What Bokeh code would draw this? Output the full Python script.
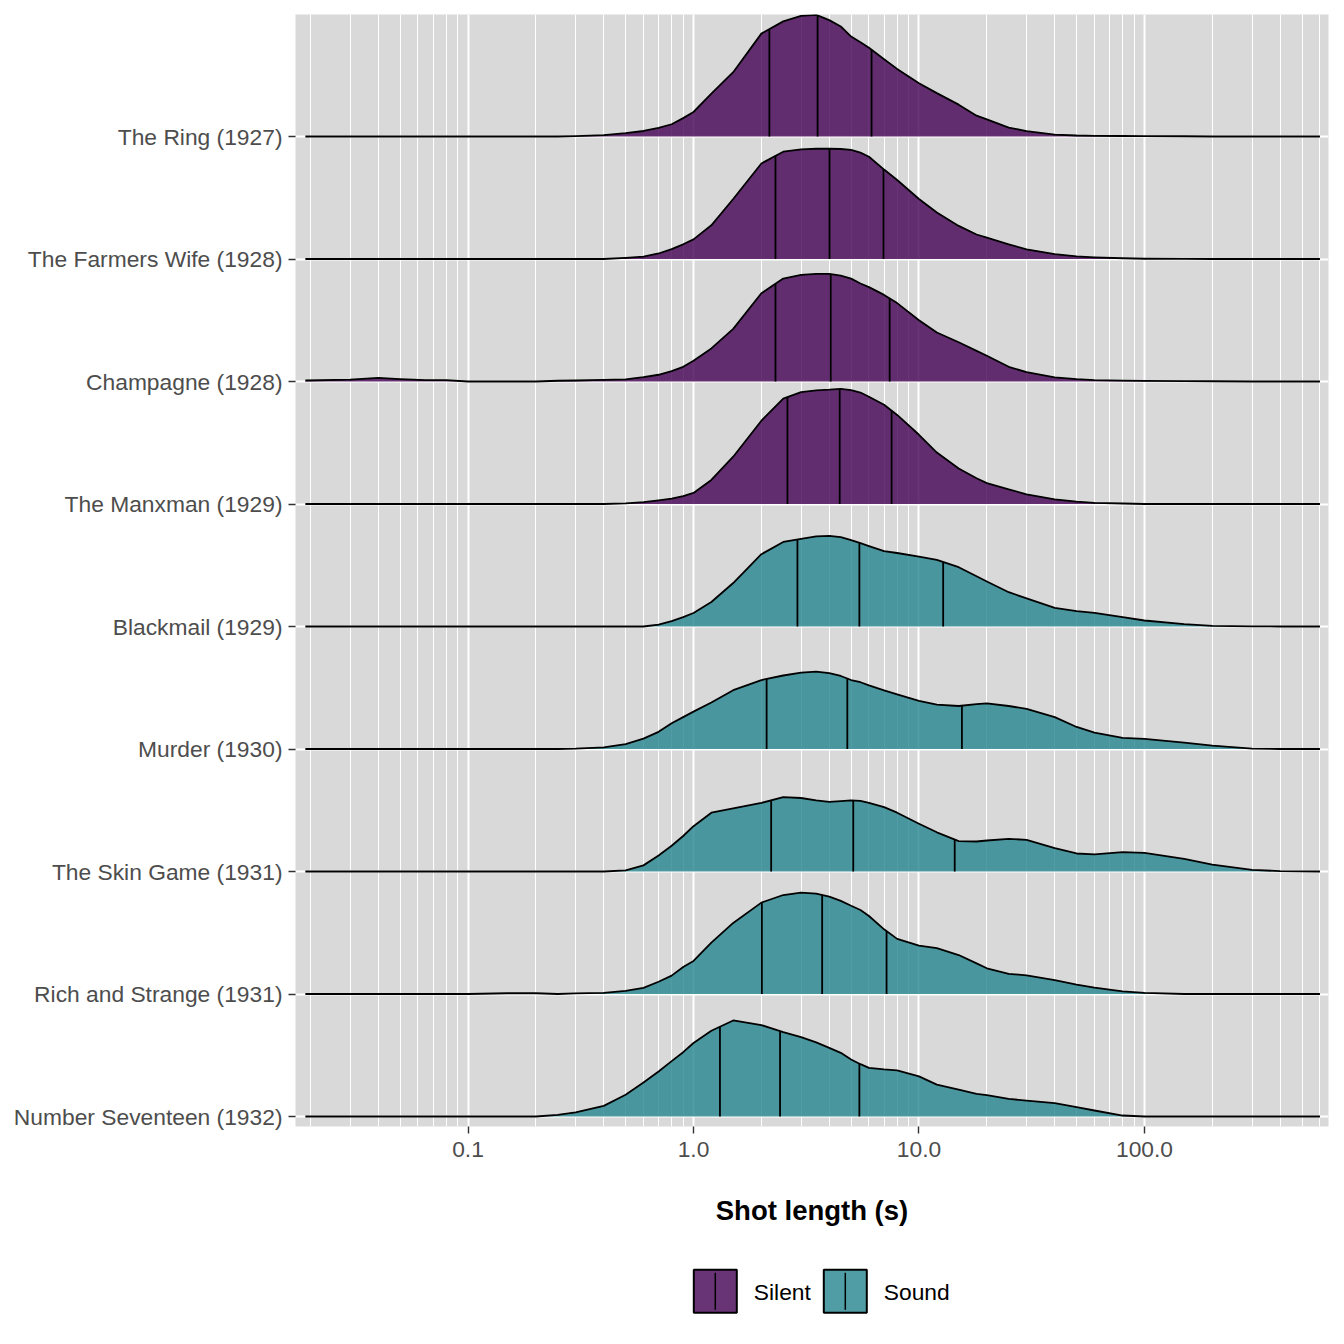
import numpy as np
from bokeh.plotting import figure
from bokeh.models import Range1d, FixedTicker, CustomJSTickFormatter
from bokeh.layouts import column
from bokeh.core.properties import value
from bokeh.embed import file_html
from bokeh.resources import INLINE

# ---------------- data ----------------
FILMS = ["The Ring (1927)", "The Farmers Wife (1928)", "Champagne (1928)",
         "The Manxman (1929)", "Blackmail (1929)", "Murder (1930)",
         "The Skin Game (1931)", "Rich and Strange (1931)", "Number Seventeen (1932)"]
ERA = ["Silent", "Silent", "Silent", "Silent", "Sound", "Sound", "Sound", "Sound", "Sound"]
ERAS = ["Silent", "Sound"]
ERA_COLORS = {"Silent": "#440154", "Sound": "#25848E"}

# shot length grid (s) at which the ridge heights were read
SHOT_LENGTH = [0.019, 0.03, 0.04, 0.05, 0.065, 0.08, 0.1, 0.15, 0.2, 0.25, 0.3, 0.4, 0.5,
               0.6, 0.7, 0.8, 0.9, 1.0, 1.2, 1.5, 2.0, 2.5, 3.0, 3.5, 4.0, 4.5, 5.0, 5.5,
               6.0, 7.0, 8.0, 10, 12, 15, 18, 20, 25, 30, 40, 50, 60, 80, 100, 150, 200,
               300, 400, 600]

# scaled density heights (1.0 = one ridge spacing)
RING = [0, 0, 0, 0, 0, 0, 0, 0, 0, 0, 0.003, 0.012, 0.027, 0.045, 0.07, 0.10, 0.15, 0.20,
        0.35, 0.525, 0.84, 0.94, 0.985, 0.993, 0.95, 0.898, 0.816, 0.77, 0.724, 0.63, 0.552,
        0.435, 0.354, 0.26, 0.17, 0.14, 0.073, 0.044, 0.016, 0.008, 0.005, 0.004, 0.003, 0.002,
        0, 0, 0, 0]
FARMERS_WIFE = [0, 0, 0, 0, 0, 0, 0, 0, 0, 0, 0, 0, 0.01, 0.02, 0.045, 0.08, 0.12, 0.16,
                0.275, 0.49, 0.78, 0.876, 0.895, 0.9, 0.9, 0.898, 0.89, 0.868, 0.835, 0.73, 0.645,
                0.49, 0.38, 0.27, 0.2, 0.174, 0.12, 0.079, 0.04, 0.022, 0.014, 0.006, 0.002, 0.001,
                0, 0, 0, 0]
CHAMPAGNE = [0.008, 0.015, 0.03, 0.02, 0.011, 0.011, 0, 0, 0, 0.006, 0.008, 0.014, 0.018,
             0.035, 0.055, 0.085, 0.12, 0.17, 0.27, 0.43, 0.72, 0.84, 0.87, 0.879, 0.879, 0.865,
             0.84, 0.80, 0.77, 0.707, 0.64, 0.50, 0.40, 0.32, 0.25, 0.21, 0.12, 0.076, 0.033,
             0.019, 0.012, 0.007, 0.005, 0.003, 0.002, 0, 0, 0]
MANXMAN = [0, 0, 0, 0, 0, 0, 0, 0, 0, 0, 0, 0, 0.005, 0.016, 0.03, 0.044, 0.065, 0.09,
           0.196, 0.386, 0.68, 0.86, 0.914, 0.928, 0.933, 0.94, 0.93, 0.91, 0.876, 0.81, 0.727,
           0.565, 0.42, 0.29, 0.21, 0.17, 0.12, 0.079, 0.038, 0.019, 0.01, 0.004, 0, 0,
           0, 0, 0, 0]
BLACKMAIL = [0, 0, 0, 0, 0, 0, 0, 0, 0, 0, 0, 0, 0, 0, 0.015, 0.044, 0.076, 0.11,
             0.2, 0.355, 0.59, 0.69, 0.716, 0.735, 0.74, 0.73, 0.705, 0.68, 0.656, 0.615, 0.6,
             0.57, 0.544, 0.484, 0.41, 0.367, 0.28, 0.23, 0.152, 0.125, 0.112, 0.076, 0.049, 0.019,
             0.005, 0.001, 0, 0]
MURDER = [0, 0, 0, 0, 0, 0, 0, 0, 0, 0, 0.003, 0.014, 0.04, 0.085, 0.14, 0.21, 0.26, 0.305,
          0.38, 0.48, 0.563, 0.6, 0.623, 0.631, 0.62, 0.596, 0.563, 0.545, 0.52, 0.479, 0.446,
          0.392, 0.362, 0.351, 0.367, 0.373, 0.351, 0.327, 0.26, 0.18, 0.133, 0.09, 0.082, 0.052,
          0.027, 0.003, 0, 0]
SKIN_GAME = [0, 0, 0, 0, 0, 0, 0, 0, 0, 0, 0, 0, 0.01, 0.05, 0.13, 0.21, 0.29, 0.37,
             0.48, 0.515, 0.56, 0.607, 0.6, 0.58, 0.569, 0.574, 0.58, 0.577, 0.56, 0.525, 0.48,
             0.39, 0.32, 0.248, 0.245, 0.253, 0.267, 0.258, 0.19, 0.147, 0.139, 0.158, 0.152, 0.103,
             0.057, 0.014, 0.003, 0]
RICH_STRANGE = [0, 0, 0, 0, 0, 0, 0, 0.006, 0.006, 0, 0.005, 0.01, 0.025, 0.05, 0.1, 0.15, 0.22, 0.27,
                0.42, 0.58, 0.746, 0.808, 0.827, 0.82, 0.795, 0.76, 0.72, 0.686, 0.637, 0.528, 0.45,
                0.395, 0.375, 0.318, 0.25, 0.21, 0.165, 0.152, 0.113, 0.077, 0.052, 0.022, 0.009, 0,
                0, 0, 0, 0]
NUMBER_17 = [0, 0, 0, 0, 0, 0, 0, 0, 0, 0.013, 0.033, 0.087, 0.177, 0.278, 0.367, 0.452, 0.525, 0.6,
             0.70, 0.784, 0.746, 0.688, 0.648, 0.605, 0.56, 0.52, 0.465, 0.427, 0.397, 0.384, 0.376,
             0.327, 0.26, 0.22, 0.185, 0.174, 0.144, 0.13, 0.109, 0.076, 0.049, 0.008, 0, 0,
             0, 0, 0, 0]
DENSITIES = [RING, FARMERS_WIFE, CHAMPAGNE, MANXMAN, BLACKMAIL, MURDER, SKIN_GAME,
             RICH_STRANGE, NUMBER_17]

# quartiles of shot length (s)
Q25 = [2.17, 2.31, 2.31, 2.61, 2.89, 2.11, 2.21, 2.01, 1.31]
Q50 = [3.55, 4.01, 4.06, 4.45, 5.44, 4.81, 5.11, 3.72, 2.42]
Q75 = [6.16, 6.96, 7.41, 7.56, 12.8, 15.5, 14.4, 7.18, 5.44]

X_TICKS = [0.1, 1, 10, 100]
X_MINOR = [m * d for d in (0.01, 0.1, 1, 10, 100) for m in range(2, 10)]

# ---------------- styling ----------------
FONT = "Liberation Sans"
TXT = "22.8px"
W = 1336
H_MAIN = 1248
H_LEG = 96
BORDER_L, BORDER_R = 295, 8

n = len(FILMS)
p = figure(width=W, height=H_MAIN, x_axis_type="log",
           x_range=Range1d(10 ** -1.765, 10 ** 2.816),
           y_range=Range1d(1 - 10 / 122.5, n + 122 / 122.5),
           output_backend="svg", toolbar_location=None,
           min_border_left=BORDER_L, min_border_right=BORDER_R,
           min_border_top=14, min_border_bottom=122)
p.background_fill_color = "#D9D9D9"
p.border_fill_color = "white"
p.outline_line_color = None

xt = FixedTicker(ticks=X_TICKS, minor_ticks=X_MINOR)
p.xaxis.ticker = xt
p.xgrid.ticker = xt
p.xaxis.formatter = CustomJSTickFormatter(code="return tick.toFixed(1);")
yt = FixedTicker(ticks=list(range(1, n + 1)), minor_ticks=[])
p.yaxis.ticker = yt
p.ygrid.ticker = yt
p.yaxis.major_label_overrides = {n - i: f for i, f in enumerate(FILMS)}

p.xgrid.grid_line_color = "white"
p.xgrid.grid_line_width = 2
p.xgrid.minor_grid_line_color = "white"
p.xgrid.minor_grid_line_width = 1
p.ygrid.grid_line_color = "white"
p.ygrid.grid_line_width = 2

for ax in (p.xaxis, p.yaxis):
    ax.axis_line_color = None
    ax.major_tick_line_color = "#333333"
    ax.major_tick_line_width = 1.4
    ax.major_tick_out = 7
    ax.major_tick_in = 0
    ax.minor_tick_line_color = None
    ax.major_label_text_font = FONT
    ax.major_label_text_font_size = TXT
    ax.major_label_text_color = "#4D4D4D"
p.yaxis.major_label_standoff = 6
p.xaxis.major_label_standoff = 8
p.xaxis.axis_label = "Shot length (s)"
p.xaxis.axis_label_text_font = FONT
p.xaxis.axis_label_text_font_size = "27.5px"
p.xaxis.axis_label_text_font_style = "bold"
p.xaxis.axis_label_text_color = "black"
p.xaxis.axis_label_standoff = 35

logx = np.log10(SHOT_LENGTH)
for i in range(n):
    y0 = n - i
    h = np.array(DENSITIES[i], dtype=float)
    top = y0 + h
    col = ERA_COLORS[ERA[i]]
    p.varea(x=SHOT_LENGTH, y1=[y0] * len(SHOT_LENGTH), y2=top, fill_color=col, fill_alpha=0.8)
    p.line(SHOT_LENGTH, top, line_color="black", line_width=1.8, line_join="round")
    qs = [Q25[i], Q50[i], Q75[i]]
    qh = np.interp(np.log10(qs), logx, h)
    p.segment(x0=qs, y0=[y0] * 3, x1=qs, y1=list(y0 + qh), line_color="black", line_width=1.8)

# ---------------- legend (pixel-space strip under the plot) ----------------
leg = figure(width=W, height=H_LEG, x_range=Range1d(BORDER_L, W - BORDER_R), y_range=Range1d(H_LEG, 0),
             output_backend="svg", toolbar_location=None,
             x_axis_location=None, y_axis_location=None,
             min_border_left=BORDER_L, min_border_right=BORDER_R, min_border_top=0, min_border_bottom=0)
leg.grid.visible = False
leg.outline_line_color = None
leg.background_fill_color = "white"
leg.border_fill_color = "white"

KEY = 43
KEY_X0 = 693.3
KEY_STEP = 130
KEY_TOP = 21.3
lefts = [KEY_X0 + KEY_STEP * k for k in range(len(ERAS))]
leg.quad(left=lefts, right=[l + KEY for l in lefts], top=[KEY_TOP] * 2, bottom=[KEY_TOP + KEY] * 2,
         fill_color=[ERA_COLORS[e] for e in ERAS], fill_alpha=0.8,
         line_color="black", line_width=2)
cx = [l + KEY / 2 for l in lefts]
leg.segment(x0=cx, y0=[KEY_TOP + 3] * 2, x1=cx, y1=[KEY_TOP + KEY - 3] * 2,
            line_color="black", line_width=1.5)
leg.text(x=[l + KEY + 17 for l in lefts], y=[KEY_TOP + KEY / 2 + 1] * 2, text=ERAS,
         text_baseline="middle", text_align="left", text_font=value(FONT),
         text_font_size=TXT, text_color="black")

layout = column(p, leg, spacing=0)
open("out.html", "w").write(file_html(layout, INLINE))
